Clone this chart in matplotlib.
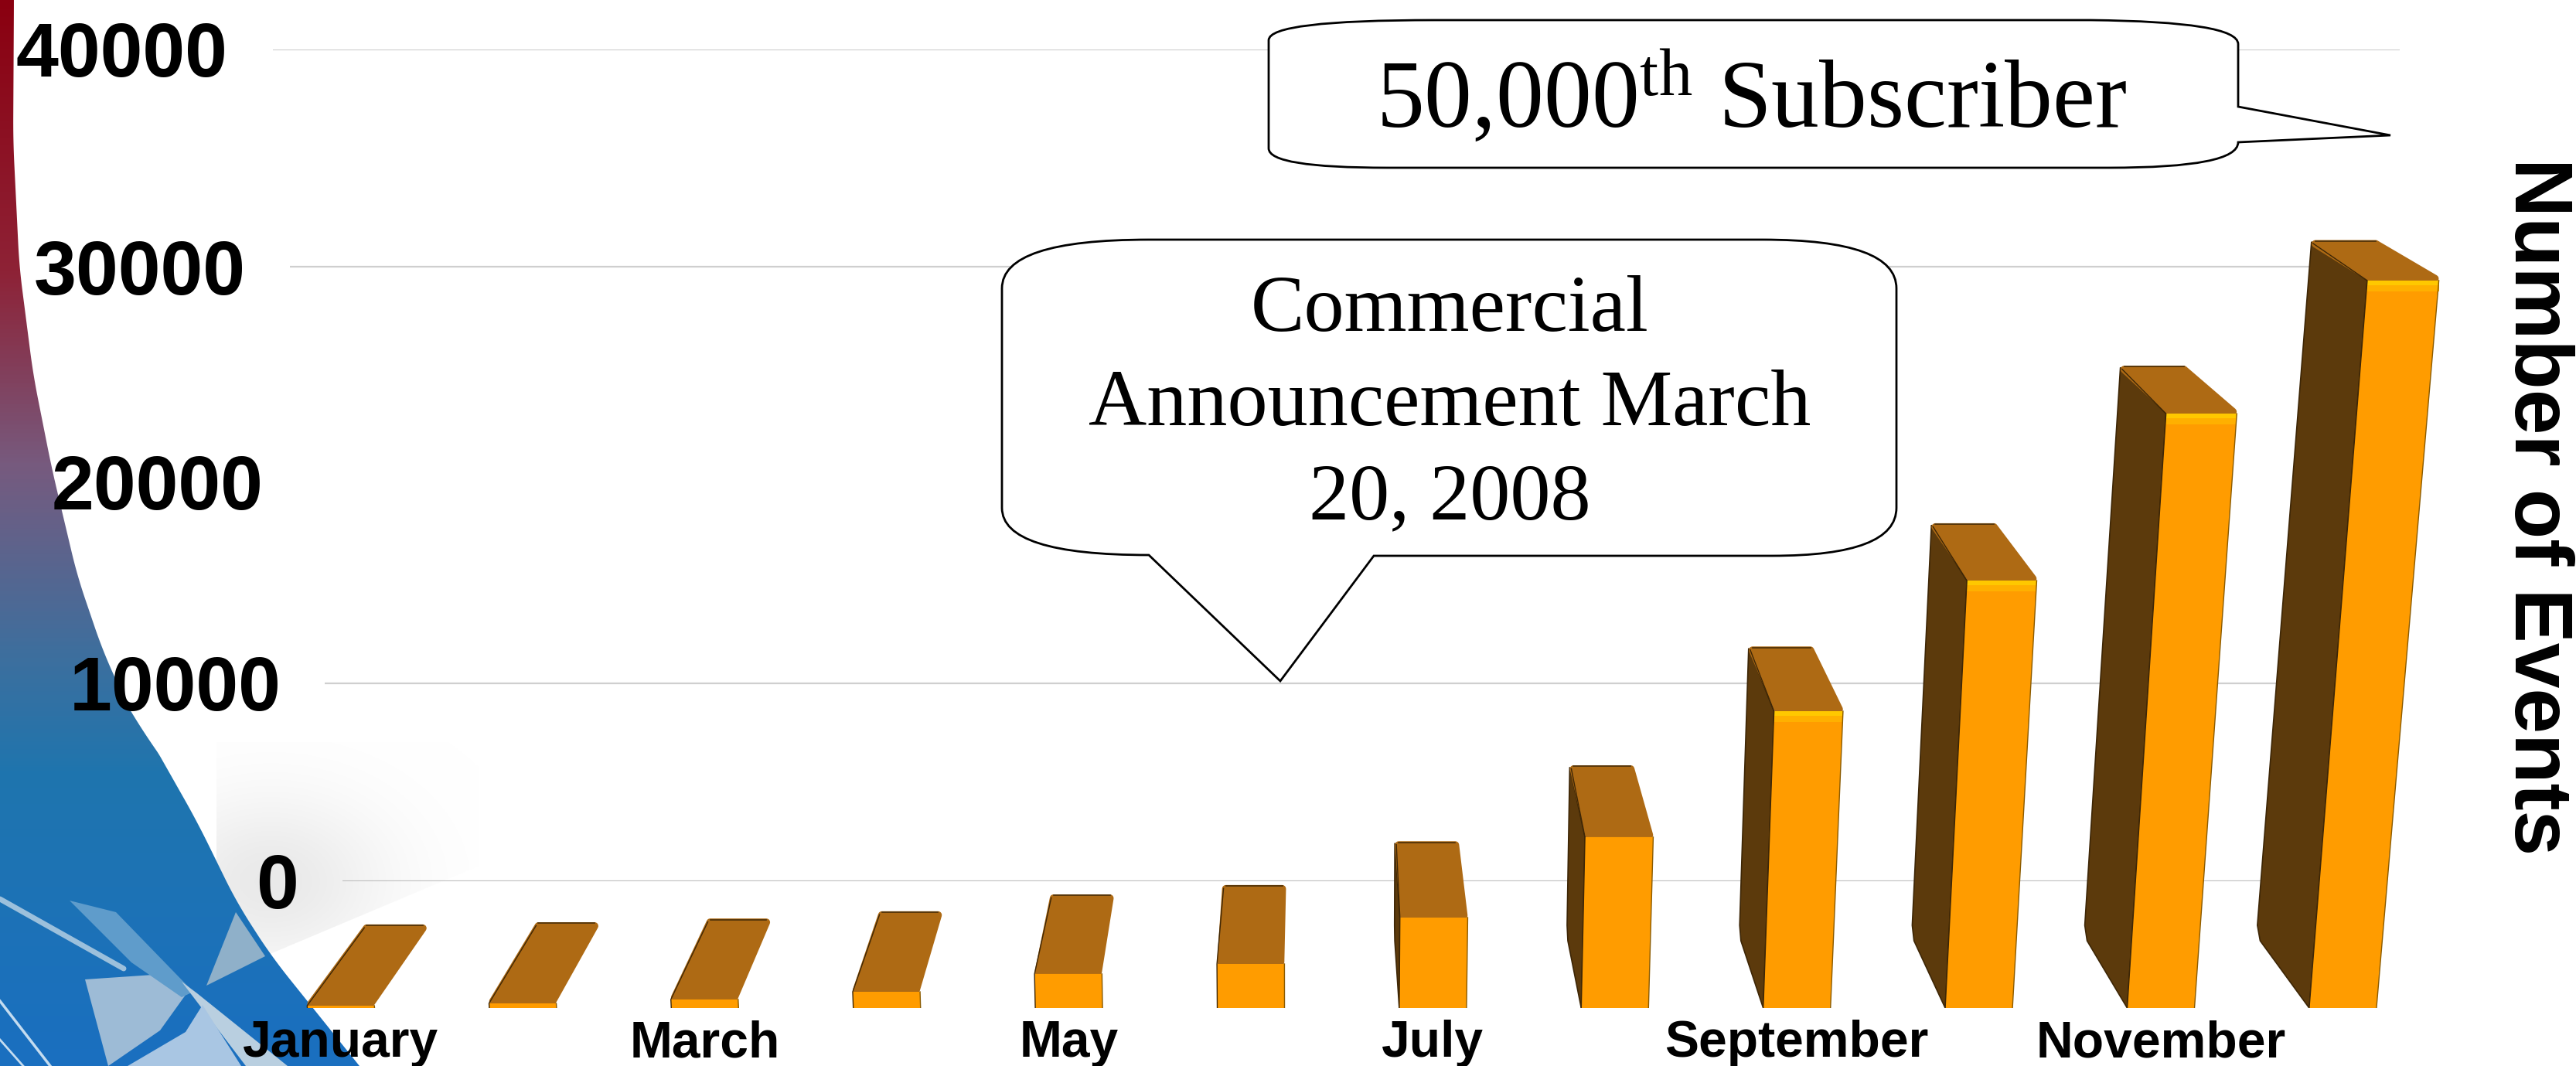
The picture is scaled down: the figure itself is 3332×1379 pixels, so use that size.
import numpy as np
import matplotlib
matplotlib.use("Agg")
import matplotlib.pyplot as plt
from matplotlib.path import Path
from matplotlib.patches import PathPatch, Polygon
from matplotlib.colors import LinearSegmentedColormap
from matplotlib.transforms import ScaledTranslation

months = ["January", "February", "March", "April", "May", "June", "July",
          "August", "September", "October", "November", "December"]
events = [100, 200, 370, 700, 1470, 1900, 3900, 7370, 12800, 18430, 25630, 31370]
shown_month_labels = ["January", "March", "May", "July", "September", "November"]
y_ticks = [0, 10000, 20000, 30000, 40000]
gridline_values = [0, 10000, 30000, 40000]
callout_top = "50,000$^{th}$ Subscriber"
callout_mid = "Commercial\nAnnouncement March\n20, 2008"
y_title = "Number of Events"

W, H = 3332, 1379
plt.rcParams["mathtext.fontset"] = "custom"
plt.rcParams["mathtext.rm"] = "Liberation Serif"
plt.rcParams["mathtext.it"] = "Liberation Serif"
plt.rcParams["mathtext.default"] = "rm"
SANS = "Liberation Sans"
SERIF = "Liberation Serif"

fig = plt.figure(figsize=(W / 100, H / 100), dpi=100, facecolor="white")


def axes_px(left, top, right, bottom):
    return [left / W, 1 - bottom / H, (right - left) / W, (bottom - top) / H]


# ---------- background artwork (pixel space) ----------
bg = fig.add_axes([0, 0, 1, 1], zorder=0)
bg.axis("off")
grad = LinearSegmentedColormap.from_list(
    "g",
    [(0, "#8a0010"), (350 / H, "#8e2236"), (600 / H, "#775a7e"),
     (850 / H, "#3d6f9e"), (1000 / H, "#1f75ae"), (1, "#1a6fc0")],
)
im = bg.imshow(np.linspace(0, 1, 512)[:, None], extent=(0, 520, H, 0), cmap=grad,
               aspect="auto", zorder=1)
edge_x = [18, 17, 25, 43, 67, 100, 133, 177, 191, 255, 306, 351, 465]
edge_y = [0, 182, 345, 485, 606, 745, 842, 939, 950, 1063, 1167, 1237, 1379]
dense_y = np.arange(-60, H + 61)
dense_x = np.interp(dense_y, edge_y, edge_x)
dense_x[dense_y > H] = 465 + (dense_y[dense_y > H] - H) * 0.8
smooth_x = np.convolve(dense_x, np.ones(61) / 61, mode="same")[60:-60]
outline = np.vstack([[0, 0], np.column_stack([smooth_x, dense_y[60:-60]]), [0, H]])
crescent = Polygon(outline, transform=bg.transData, fc="none", ec="none")
bg.add_patch(crescent)
im.set_clip_path(crescent)

# soft grey glow beside the crescent
gx, gy = np.meshgrid(np.arange(280, 620), np.arange(960, 1260))
glow = np.exp(-((gx - 350) / 150.0) ** 2 - ((gy - 1140) / 110.0) ** 2)
rgba = np.zeros(gx.shape + (4,))
rgba[..., :3] = 0.86
rgba[..., 3] = np.clip(glow * 0.6, 0, 1)
gim = bg.imshow(rgba, extent=(280, 620, 1260, 960), aspect="auto", zorder=0.5)
gclip = Polygon([(280, 960), (620, 960), (620, 1120), (347, 1235), (280, 1235)],
                transform=bg.transData, fc="none", ec="none")
bg.add_patch(gclip)
gim.set_clip_path(gclip)
bg.set_xlim(0, W)
bg.set_ylim(H, 0)
for pts, col, z in [
    ([(305, 1180), (343, 1237), (267, 1275)], "#8fb0c9", 2),
    ([(110, 1267), (213, 1260), (240, 1287), (207, 1333), (140, 1379)], "#9dbbd6", 2),
    ([(90, 1165), (150, 1180), (250, 1283), (235, 1290), (170, 1245)], "#5f9ccb", 2),
    ([(235, 1270), (255, 1285), (372, 1379), (318, 1379)], "#b9cfe0", 2),
    ([(240, 1335), (262, 1300), (312, 1379), (165, 1379)], "#a9c6e3", 2),
]:
    bg.add_patch(Polygon(pts, closed=True, fc=col, ec="none", zorder=z))
bg.plot([0, 160], [1163, 1253], color="#9cc0dc", lw=5, zorder=3, solid_capstyle="round")
bg.plot([0, 65], [1295, 1379], color="#c4dcf0", lw=2.5, zorder=3)
bg.plot([0, 30], [1345, 1379], color="#c4dcf0", lw=2, zorder=3)

# ---------- back wall: its own value axis, with the perspective spacing ----------
wall_vals = [0, 10000, 20000, 30000, 40000]
wall_px = [0, 256, 516, 795, 1076]
wall = fig.add_axes(axes_px(0, 64, W, 1140), zorder=1)
wall.patch.set_visible(False)
for s in wall.spines.values():
    s.set_visible(False)
wall.set_xlim(0, W)
wall.set_yscale("function", functions=(lambda v: np.interp(v, wall_vals, wall_px),
                                       lambda p: np.interp(p, wall_px, wall_vals)))
wall.set_ylim(0, 40000)
for v in gridline_values:
    wall.plot([443 - 2.25e-3 * v, 2925 + 4.475e-3 * v], [v, v],
              color="#bdbdbd" if v == 0 else "#cfcfcf", lw=1.6, solid_capstyle="butt")
wall.set_xticks([])
wall.set_yticks(y_ticks)
wall.set_yticklabels([str(t) for t in y_ticks], fontfamily=SANS, fontweight="bold",
                     fontsize=71, color="black")
wall.tick_params(axis="y", length=0, pad=0)
wall.yaxis.set_minor_locator(matplotlib.ticker.NullLocator())
down = ScaledTranslation(0, -10 / 100, fig.dpi_scale_trans)
for t, lab in zip(y_ticks, wall.get_yticklabels()):
    lab.set_x((386 - 2.28e-3 * t) / W)
    lab.set_horizontalalignment("right")
    lab.set_verticalalignment("center")
    lab.set_transform(lab.get_transform() + down)

# ---------- bars: months on x, events on y, floor of the front plane at y=0 ----------
ax = fig.add_axes(axes_px(0, 0, W, 1304), zorder=2)
ax.patch.set_visible(False)
for s in ax.spines.values():
    s.set_visible(False)
XS = 235.4               # pixels per month
YS = 0.03                # pixels per event
X0 = 441.0               # pixel of the first month
ax.set_xlim(-X0 / XS, (W - X0) / XS)
ax.set_ylim(0, 1304 / YS)

FRONT = "#ff9c00"
RIM = ["#ffb000", "#ffc800"]
TOP = "#ae6a14"
SIDE = "#5c3a0c"
EDGE = "#3d2606"


def px(i, v, ox=0.0, oy=0.0):
    """Data point of month i at value v, moved by a perspective offset in pixels."""
    return (i + ox / XS, v + oy / YS)


for i in range(len(events)):
    v = events[i]
    h = v * YS
    slope = 0.0145 * (i - 5.5)
    w = 87 + 0.006 * h
    dx = 72 - 13.1 * i
    dy = 50 + (941 - h) * 0.0563
    fl_b = -87 / 2
    fl_t = fl_b + slope * h
    fr_b = fl_b + 87
    fr_t = fl_t + w
    bl = fl_t + dx
    br = bl + 0.95 * w
    if dx < 0:
        side = [px(i, v, bl, dy), px(i, v, fl_t, 0), px(i, 0, fl_b, 0),
                px(i, 0, fl_b + dx * 0.88, 87), px(i, 20 / YS, fl_b + dx * 0.93, 87)]
        ax.add_patch(Polygon(side, closed=True, fc=SIDE, ec=EDGE, lw=1.2, zorder=3 + i * 0.01))
    # top face, inset so that the thick round outline gives it soft corners
    r = 5
    top = [px(i, v, fl_t + r, r / 2), px(i, v, fr_t - r, r / 2),
           px(i, v, br - r, dy - r / 2), px(i, v, bl + r, dy - r / 2)]
    ax.add_patch(Polygon(top, closed=True, fc=TOP, ec=TOP, lw=7, joinstyle="round",
                         zorder=3 + i * 0.01))
    ax.plot(*zip(px(i, v, bl + 5, dy + 1), px(i, v, br - 5, dy + 1)), color="#4a2e08", lw=1.2,
            zorder=3.5 + i * 0.01)
    front = [px(i, 0, fl_b, 0), px(i, 0, fr_b, 0), px(i, v, fr_t, 0), px(i, v, fl_t, 0)]
    ax.add_patch(Polygon(front, closed=True, fc=FRONT, ec="none", zorder=4 + i * 0.01))
    if h > 300:
        for rim_h, col, zz in ((14, RIM[0], 4.2), (6, RIM[1], 4.25)):
            rim = [px(i, v, fl_t, -rim_h), px(i, v, fr_t, -rim_h), px(i, v, fr_t, 0), px(i, v, fl_t, 0)]
            ax.add_patch(Polygon(rim, closed=True, fc=col, ec="none", zorder=zz + i * 0.01))
    ax.plot(*zip(px(i, 0, fr_b, 0), px(i, v, fr_t, 0)), color="#8a5a00", lw=1, zorder=4.3 + i * 0.01)
    ax.plot(*zip(px(i, 0, fl_b, 0), px(i, v, fl_t, 0), px(i, v, bl + 2, dy - 2)), color=EDGE, lw=1,
            zorder=4.3 + i * 0.01)

ax.set_yticks([])
tick_pos = [months.index(m) for m in shown_month_labels]
ax.set_xticks(tick_pos)
ax.set_xticklabels(shown_month_labels, fontfamily=SANS, fontweight="bold", fontsize=47.5,
                   color="black")
ax.tick_params(axis="x", length=0, pad=11)
ax.yaxis.set_label_position("right")
ax.set_ylabel(y_title, rotation=270, fontfamily=SANS, fontweight="bold", fontsize=76,
              va="center", ha="center")
ax.yaxis.set_label_coords(3281 / W, (1304 - 655) / 1304)

# ---------- callouts ----------
over = fig.add_axes([0, 0, 1, 1], zorder=3)
over.patch.set_visible(False)
over.axis("off")
over.set_xlim(0, W)
over.set_ylim(H, 0)
M, L, C, Z = Path.MOVETO, Path.LINETO, Path.CURVE3, Path.CLOSEPOLY
box1 = [(M, (1856, 26)), (L, (2704, 26)), (C, (2895, 28)), (C, (2895, 57)),
        (L, (2895, 138)), (L, (3092, 175)), (L, (2895, 184)),
        (C, (2895, 217)), (C, (2728, 217)), (L, (1795, 217)),
        (C, (1641, 217)), (C, (1641, 192)), (L, (1641, 52)),
        (C, (1641, 26)), (C, (1856, 26)), (Z, (1856, 26))]
box2 = [(M, (1486, 310)), (L, (2280, 310)), (C, (2453, 310)), (C, (2453, 373)),
        (L, (2453, 657)), (C, (2453, 719)), (C, (2292, 719)), (L, (1777, 719)),
        (L, (1656, 881)), (L, (1486, 718)), (C, (1296, 718)), (C, (1296, 657)),
        (L, (1296, 373)), (C, (1296, 310)), (C, (1486, 310)), (Z, (1486, 310))]
for b in (box1, box2):
    codes, verts = zip(*b)
    over.add_patch(PathPatch(Path(verts, codes), fc="white", ec="black", lw=2))
over.text(2266, 164, callout_top, family=SERIF, fontsize=89, ha="center", va="baseline")
over.text(1875, 525, callout_mid, family=SERIF, fontsize=75, ha="center", va="center",
          multialignment="center", linespacing=1.385)

fig.savefig("out.png", dpi=100, facecolor="white")
